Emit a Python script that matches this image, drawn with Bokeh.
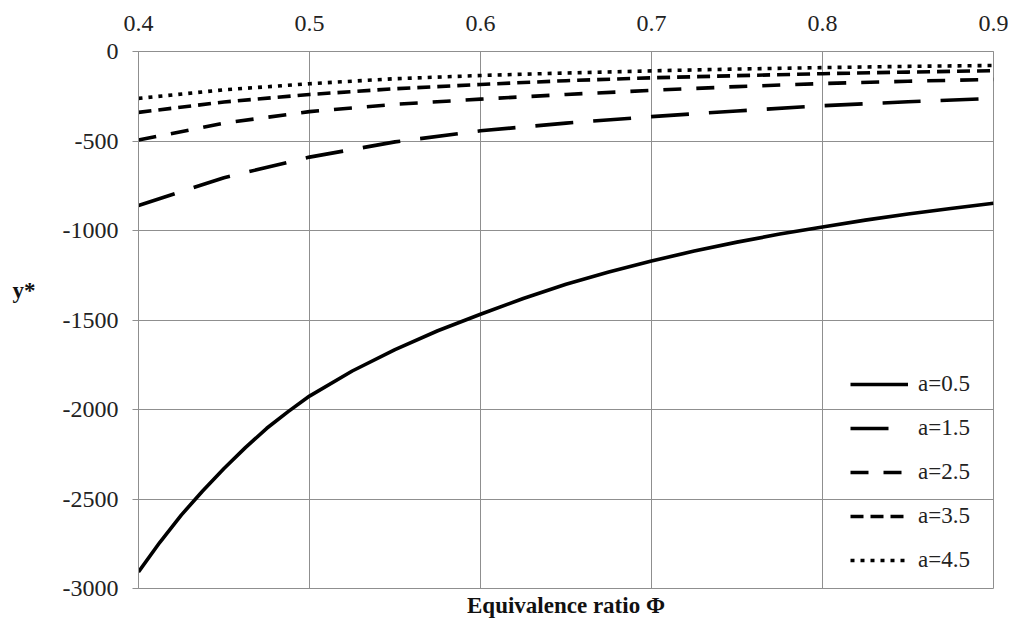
from bokeh.plotting import figure
from bokeh.models import (FixedTicker, LinearAxis, Legend, LegendItem, Range1d)
from bokeh.embed import file_html
from bokeh.resources import INLINE

# ---- data ----
phi_fine = [0.4, 0.4125, 0.425, 0.4375, 0.45, 0.4625, 0.475, 0.4875, 0.5, 0.525, 0.55,
            0.575, 0.6, 0.625, 0.65, 0.675, 0.7, 0.725, 0.75, 0.775, 0.8, 0.825, 0.85,
            0.875, 0.9]
y_a05 = [-2907, -2742, -2590, -2455, -2330, -2213, -2105, -2012, -1925, -1785, -1665,
         -1560, -1468, -1380, -1300, -1232, -1170, -1115, -1065, -1020, -980, -942, -908,
         -877, -848]

phi = [0.4, 0.45, 0.5, 0.55, 0.6, 0.65, 0.7, 0.75, 0.8, 0.85, 0.9]
y_a15 = [-860, -705, -590, -505, -443, -400, -364, -332, -303, -281, -262]
y_a25 = [-495, -400, -336, -295, -266, -240, -217, -196, -179, -166, -156]
y_a35 = [-340, -282, -240, -208, -184, -163, -147, -135, -124, -115, -107]
y_a45 = [-262, -214, -180, -152, -134, -120, -108, -98, -90, -83, -78]

series_labels = ["a=0.5", "a=1.5", "a=2.5", "a=3.5", "a=4.5"]

x_ticks = [0.4, 0.5, 0.6, 0.7, 0.8, 0.9]
x_tick_labels = ["0.4", "0.5", "0.6", "0.7", "0.8", "0.9"]
y_ticks = [0, -500, -1000, -1500, -2000, -2500, -3000]
y_tick_labels = ["0", "-500", "-1000", "-1500", "-2000", "-2500", "-3000"]

x_title = "Equivalence ratio \u03a6"
y_title = "y*"

# ---- styles ----
SERIF = "'Liberation Serif', 'Times New Roman', serif"
GRID = "#8f8f8f"
TXT = "#222222"

p = figure(width=1008, height=620, output_backend="svg", toolbar_location=None,
           x_axis_location="above",
           x_range=Range1d(0.4, 0.9), y_range=Range1d(-3000, 0),
           min_border_left=138, min_border_right=15, min_border_top=51,
           min_border_bottom=32)
p.background_fill_color = "white"
p.border_fill_color = "white"
p.outline_line_color = GRID
p.outline_line_width = 1

# top x axis
xa = p.xaxis[0]
xa.ticker = FixedTicker(ticks=x_ticks)
xa.major_label_overrides = {t: s for t, s in zip(x_ticks, x_tick_labels)}
xa.major_tick_out = 0
xa.major_tick_in = 0
xa.minor_tick_out = 0
xa.minor_tick_in = 0
xa.axis_line_color = GRID
xa.major_label_text_font = SERIF
xa.major_label_text_font_size = "24px"
xa.major_label_text_color = TXT
xa.major_label_standoff = 21

# left y axis
ya = p.yaxis[0]
ya.ticker = FixedTicker(ticks=y_ticks)
ya.major_label_overrides = {t: s for t, s in zip(y_ticks, y_tick_labels)}
ya.major_tick_out = 6
ya.major_tick_in = 0
ya.minor_tick_out = 0
ya.minor_tick_in = 0
ya.major_tick_line_color = GRID
ya.axis_line_color = GRID
ya.major_label_text_font = SERIF
ya.major_label_text_font_size = "24px"
ya.major_label_text_color = TXT
ya.major_label_standoff = 14
ya.axis_label = y_title + "\n\n"
ya.axis_label_orientation = "horizontal"
ya.axis_label_standoff = 24
ya.axis_label_text_font = SERIF
ya.axis_label_text_font_style = "bold"
ya.axis_label_text_font_size = "23px"
ya.axis_label_text_color = "#111111"

# bottom axis used only for the title
xb = LinearAxis(ticker=FixedTicker(ticks=[]), axis_label=x_title)
xb.axis_line_color = None
xb.major_tick_out = 0
xb.major_tick_in = 0
xb.minor_tick_out = 0
xb.minor_tick_in = 0
xb.major_label_text_font_size = "0px"
xb.axis_label_text_font = SERIF
xb.axis_label_text_font_style = "bold"
xb.axis_label_text_font_size = "23px"
xb.axis_label_text_color = "#111111"
xb.axis_label_standoff = 4
p.add_layout(xb, "below")

# grid
p.xgrid.ticker = FixedTicker(ticks=x_ticks)
p.ygrid.ticker = FixedTicker(ticks=y_ticks)
p.xgrid.grid_line_color = GRID
p.ygrid.grid_line_color = GRID
p.xgrid.grid_line_width = 1
p.ygrid.grid_line_width = 1

# series
LW = 3.6
r05 = p.line(phi_fine, y_a05, line_color="black", line_width=LW, line_join="round")
r15 = p.line(phi, y_a15, line_color="black", line_width=LW, line_dash="38 20")
r25 = p.line(phi, y_a25, line_color="black", line_width=LW, line_dash="18 15")
r35 = p.line(phi, y_a35, line_color="black", line_width=LW, line_dash="13 7")
r45 = p.line(phi, y_a45, line_color="black", line_width=LW, line_dash="4 6")

legend = Legend(items=[LegendItem(label=lab, renderers=[r])
                       for lab, r in zip(series_labels, [r05, r15, r25, r35, r45])],
                location=(712, 8))
legend.background_fill_alpha = 0
legend.border_line_color = None
legend.padding = 0
legend.margin = 0
legend.spacing = 4
legend.glyph_width = 58
legend.glyph_height = 40
legend.label_height = 40
legend.label_standoff = 10
legend.label_text_font = SERIF
legend.label_text_font_size = "23px"
legend.label_text_color = TXT
p.add_layout(legend, "center")

open("out.html", "w").write(file_html(p, INLINE))
